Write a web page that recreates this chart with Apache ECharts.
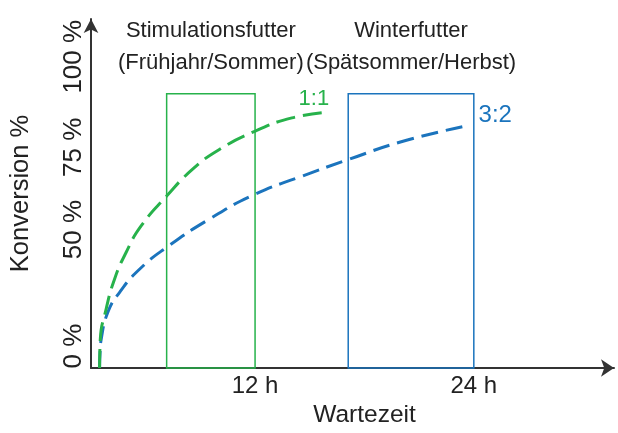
<!DOCTYPE html>
<html>
<head>
<meta charset="utf-8">
<script src="https://cdn.jsdelivr.net/npm/echarts@6/dist/echarts.min.js"></script>
<style>
html,body{margin:0;padding:0;background:#fff;}
#c{width:618px;height:433px;}
</style>
</head>
<body>
<div id="c"></div>
<script>
// Schematic data (time axis in hours, conversion in %)
const greenHours = [3.47, 3.51, 3.83, 4.29, 4.93, 5.74, 7.15, 8.56, 10.02, 11.98, 14.02, 16.09];
const greenConv  = [0, 10.5, 21.5, 32.4, 42.2, 51.7, 62.7, 72.4, 79.6, 86.3, 91.2, 93.3];
const blueHours  = [3.47, 3.5, 3.56, 3.93, 4.57, 5.66, 7.15, 9.47, 11.98, 14.56, 17.11, 20.02, 23.44];
const blueConv   = [0, 6, 10.5, 20.4, 27.6, 36, 44, 54.2, 63.3, 69.9, 76, 82.5, 88.1];
const seriesNames = ['1:1', '3:2'];

const xTickValues = [12, 24];
const xTickLabels = ['12 h', '24 h'];
const yTickValues = [8, 50.5, 80.5, 113.5];
const yTickLabels = ['0 %', '50 %', '75 %', '100 %'];

const windowNames = ['Stimulationsfutter\n(Frühjahr/Sommer)', 'Winterfutter\n(Spätsommer/Herbst)'];
const windowStart = [7.15, 17.11];
const windowEnd   = [12, 24];
const windowLow   = [0, 0];
const windowHigh  = [100, 100];

const GREEN = '#27b24b';
const BLUE = '#1b74bd';
const FONT = '"Liberation Sans", Arial, Helvetica, sans-serif';

function pairs(xs, ys){ return xs.map((x,i)=>[x, ys[i]]); }
function win(i, color){
  return {
    silent: true,
    itemStyle: {color: 'rgba(0,0,0,0)', borderColor: color, borderWidth: 1.5},
    label: {show: true, position: 'top', distance: 14, color: '#222', fontSize: 22, lineHeight: 32, fontFamily: FONT, align: 'center'},
    data: [[{name: windowNames[i], xAxis: windowStart[i], yAxis: windowLow[i]}, {xAxis: windowEnd[i], yAxis: windowHigh[i]}]]
  };
}

const chart = echarts.init(document.getElementById('c'), null, {renderer: 'canvas'});
chart.setOption({
  animation: false,
  backgroundColor: '#fff',
  grid: {left: 88, right: 4, top: 19, bottom: 64, containLabel: false},
  xAxis: {
    type: 'value', min: 3, max: 31.69,
    name: 'Wartezeit', nameLocation: 'middle', nameGap: 35,
    nameTextStyle: {fontSize: 24.5, color: '#222', fontFamily: FONT, padding: [0, 0, 0, 24]},
    axisLine: {show: true, symbol: ['none', 'arrow'], symbolSize: [13, 13], lineStyle: {color: '#333', width: 2}},
    axisTick: {show: false},
    splitLine: {show: false},
    axisLabel: {
      show: true, margin: 6, fontSize: 24, color: '#222', fontFamily: FONT,
      customValues: xTickValues,
      formatter: v => { const i = xTickValues.indexOf(v); return i >= 0 ? xTickLabels[i] : ''; }
    }
  },
  yAxis: {
    type: 'value', min: 0, max: 127.27,
    name: 'Konversion %', nameLocation: 'middle', nameGap: 57, nameRotate: 90,
    nameTextStyle: {fontSize: 25.5, color: '#222', fontFamily: FONT},
    axisLine: {show: true, symbol: ['none', 'arrow'], symbolSize: [11, 14], lineStyle: {color: '#333', width: 2}},
    axisTick: {show: false},
    splitLine: {show: false},
    axisLabel: {
      show: true, rotate: 90, margin: 4, fontSize: 26, color: '#222', fontFamily: FONT,
      customValues: yTickValues,
      formatter: v => { const i = yTickValues.indexOf(v); return i >= 0 ? yTickLabels[i] : ''; }
    }
  },
  series: [
    {
      name: seriesNames[1], type: 'line', smooth: true, symbol: 'none', silent: true,
      data: pairs(blueHours, blueConv),
      lineStyle: {color: BLUE, width: 3, type: [17, 8]},
      endLabel: {show: true, formatter: seriesNames[1], color: BLUE, fontSize: 24, fontFamily: FONT, offset: [7, -11]},
      markArea: win(1, BLUE)
    },
    {
      name: seriesNames[0], type: 'line', smooth: true, symbol: 'none', silent: true,
      data: pairs(greenHours, greenConv),
      lineStyle: {color: GREEN, width: 3, type: [19, 8]},
      endLabel: {show: true, formatter: seriesNames[0], color: GREEN, fontSize: 22, fontFamily: FONT, offset: [-39, -13]},
      markArea: win(0, GREEN)
    }
  ]
});
</script>
</body>
</html>
